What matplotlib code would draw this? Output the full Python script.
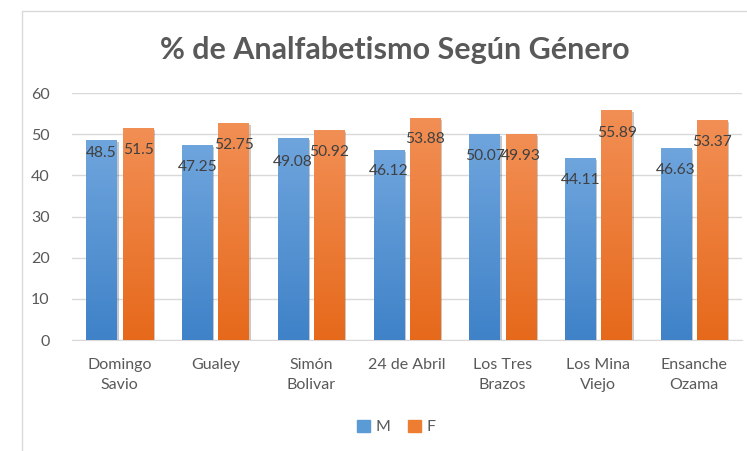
import numpy as np
import matplotlib
matplotlib.use('Agg')
import matplotlib.pyplot as plt
import matplotlib.patheffects as pe
from matplotlib.colors import LinearSegmentedColormap
from matplotlib.patches import Rectangle

plt.rcParams['font.family'] = ['Lato', 'DejaVu Sans']

# data
barrios = ['Domingo\nSavio', 'Gualey', 'Simón\nBolivar', '24 de Abril',
           'Los Tres\nBrazos', 'Los Mina\nViejo', 'Ensanche\nOzama']
m_vals = [48.5, 47.25, 49.08, 46.12, 50.07, 44.11, 46.63]
f_vals = [51.5, 52.75, 50.92, 53.88, 49.93, 55.89, 53.37]
m_labels = ['48.5', '47.25', '49.08', '46.12', '50.07', '44.11', '46.63']
f_labels = ['51.5', '52.75', '50.92', '53.88', '49.93', '55.89', '53.37']

# style
blue_top, blue_bot = '#6fa5dd', '#3f82c8'
orange_top, orange_bot = '#f28f55', '#e6691b'
text_col = '#595959'
label_col = '#404040'
grid_col = '#d9d9d9'

fig = plt.figure(figsize=(7.47, 4.51), dpi=100)
W, H = 747, 451
ax = fig.add_axes([72 / W, 1 - 340 / H, 670 / W, (340 - 93) / H])

# chart border
fig.patches.append(Rectangle((22 / W, -0.1), 1.2, 1 - 11 / H + 0.1,
                             transform=fig.transFigure, fill=False,
                             edgecolor='#d9d9d9', lw=1.0))

x = np.arange(len(barrios))
bw = 0.32
off = 0.19


def grad_bars(xpos, vals, top, bot):
    cmap = LinearSegmentedColormap.from_list('g', [bot, top])
    grad = np.linspace(0, 1, 256).reshape(-1, 1)
    bars = ax.bar(xpos, vals, bw, color=bot, zorder=2,
                  path_effects=[pe.SimplePatchShadow(offset=(1.2, -1.2), alpha=0.25),
                                pe.Normal()])
    for b in bars:
        x0, y0 = b.get_x(), b.get_y()
        w, h = b.get_width(), b.get_height()
        im = ax.imshow(grad, cmap=cmap, origin='lower', aspect='auto',
                       extent=[x0, x0 + w, y0, y0 + h], zorder=3)
        im.set_clip_path(b)
    return bars


bm = grad_bars(x - off, m_vals, blue_top, blue_bot)
bf = grad_bars(x + off, f_vals, orange_top, orange_bot)

# value labels inside end
drops_m = [-13, -22, -24, -21, -22, -22, -22]
drops_f = [-22, -22, -22, -21, -22, -23, -22]
for xi, v, t, d in zip(x - off, m_vals, m_labels, drops_m):
    ax.annotate(t, (xi, v), xytext=(0, d * 0.72), textcoords='offset points',
                ha='center', va='center', fontsize=11.2, color=label_col, zorder=5)
for xi, v, t, d in zip(x + off, f_vals, f_labels, drops_f):
    ax.annotate(t, (xi, v), xytext=(0, d * 0.72), textcoords='offset points',
                ha='center', va='center', fontsize=11.2, color=label_col, zorder=5)

ax.set_xlim(-0.5, len(barrios) - 0.5)
ax.set_ylim(0, 60)
ax.set_yticks(range(0, 61, 10))
ax.set_xticks(x)
ax.set_xticklabels(barrios, linespacing=1.5)
ax.tick_params(axis='both', length=0, labelsize=11.5, colors=text_col)
ax.tick_params(axis='x', pad=13)
ax.tick_params(axis='y', pad=16)
ax.yaxis.grid(True, color=grid_col, lw=1.0, zorder=0)
ax.set_axisbelow(True)
for s in ['top', 'right', 'left']:
    ax.spines[s].set_visible(False)
ax.spines['bottom'].set_color(grid_col)

fig.text(395 / W, 1 - 50 / H, '% de Analfabetismo Según Género', ha='center', va='center',
         fontsize=22, fontweight='bold', color=text_col)

ax.legend([Rectangle((0, 0), 1, 1, color='#5b9bd5'), Rectangle((0, 0), 1, 1, color='#ed7d31')],
          ['M', 'F'], loc='center', bbox_to_anchor=(396 / W, 1 - 427 / H),
          bbox_transform=fig.transFigure, ncol=2, frameon=False, fontsize=11.5,
          handlelength=0.85, handleheight=0.85, handletextpad=0.3, columnspacing=1.1,
          labelcolor=text_col)

fig.savefig('out.png', dpi=100)
